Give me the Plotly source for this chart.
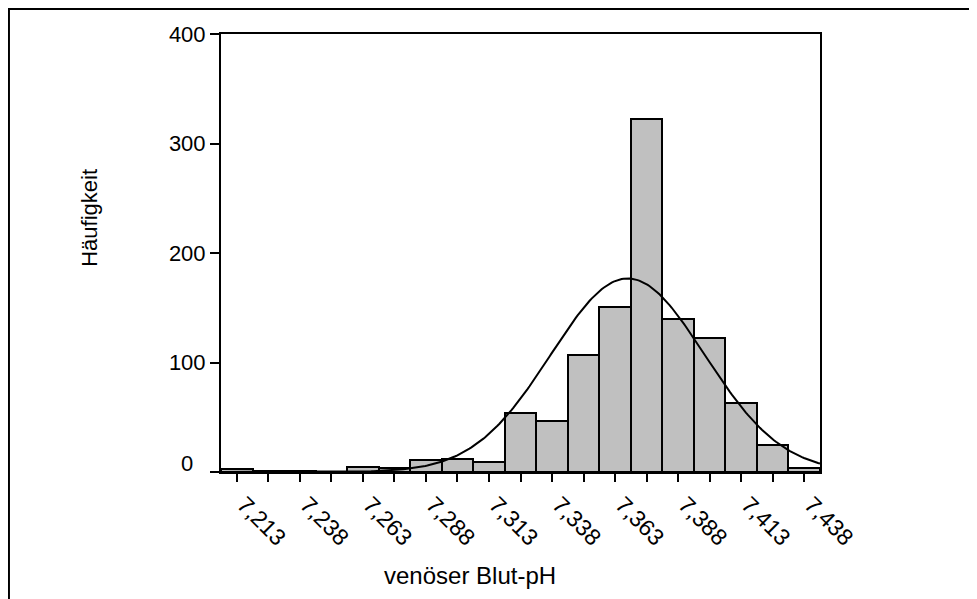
import numpy as np
import plotly.graph_objects as go

# histogram of venous blood pH (bin centres, bin width 0.0125)
bin_centers = [7.2130, 7.2255, 7.2380, 7.2505, 7.2630, 7.2755, 7.2880, 7.3005, 7.3130, 7.3255,
               7.3380, 7.3505, 7.3630, 7.3755, 7.3880, 7.4005, 7.4130, 7.4255, 7.4380]
counts = [3, 1, 1, 0, 5, 4, 11, 12, 9, 54, 47, 107, 151, 322, 140, 122, 63, 25, 4]
tick_text = ["7,213", "", "7,238", "", "7,263", "", "7,288", "", "7,313", "",
             "7,338", "", "7,363", "", "7,388", "", "7,413", "", "7,438"]
y_ticks = [0, 100, 200, 300, 400]

# fitted normal curve
bin_width = 0.0125
mean_ph = 7.368
sd_ph = 0.0305
n_total = sum(counts)

x_lo = bin_centers[0] - bin_width / 2
x_hi = bin_centers[-1] + bin_width / 2
xs = np.linspace(x_lo, x_hi, 300)
ys = n_total * bin_width / (sd_ph * np.sqrt(2 * np.pi)) * np.exp(-0.5 * ((xs - mean_ph) / sd_ph) ** 2)

font = "Liberation Sans, Arial, sans-serif"

fig = go.Figure()

fig.add_trace(go.Bar(x=bin_centers, y=counts, width=bin_width,
                     marker=dict(color="#c0c0c0", line=dict(color="black", width=2)),
                     showlegend=False))

fig.add_trace(go.Scatter(x=xs, y=ys, mode="lines",
                         line=dict(color="black", width=2), showlegend=False))

# page has an 8px body margin, so the figure is sized/placed accordingly
fig.update_layout(
    width=969, height=591,
    margin=dict(l=213, r=157, t=26, b=127),
    paper_bgcolor="white", plot_bgcolor="white",
    font=dict(family=font, size=22, color="black"),
    bargap=0,
    xaxis=dict(range=[x_lo, x_hi], tickvals=bin_centers, ticktext=tick_text,
               tickangle=45, ticks="outside", ticklen=8, tickwidth=2, tickcolor="black",
               ticklabelshift=7, tickfont=dict(size=23),
               showline=True, linewidth=2, linecolor="black", mirror=True,
               showgrid=False, zeroline=False),
    yaxis=dict(range=[0, 400], tickvals=y_ticks, ticktext=["", "100", "200", "300", "400"],
               ticks="outside", ticklen=9, tickwidth=2, tickcolor="black",
               showline=True, linewidth=2, linecolor="black", mirror=True,
               showgrid=False, zeroline=False),
)

# axis titles are not centred on the plot area in the original
fig.add_annotation(x=0.416, xref="paper", y=-0.237, yref="paper", text="venöser Blut-pH",
                   showarrow=False, xanchor="center", yanchor="middle", font=dict(size=24))
fig.add_annotation(x=-0.219, xref="paper", y=0.58, yref="paper", text="Häufigkeit",
                   textangle=-90, showarrow=False, xanchor="center", yanchor="middle",
                   font=dict(size=22))

# "0" label sits slightly above/left of the axis in the original
fig.add_annotation(x=0, xref="paper", y=0, yref="y", text="0", showarrow=False,
                   xanchor="right", yanchor="middle", xshift=-26, yshift=9,
                   font=dict(size=22))

# outer frame around the whole chart
fig.add_shape(type="rect", xref="paper", yref="paper",
              x0=-0.354, x1=1.3, y0=-0.35, y1=1.057,
              line=dict(color="black", width=2), layer="above")

fig.write_html("out.html")
